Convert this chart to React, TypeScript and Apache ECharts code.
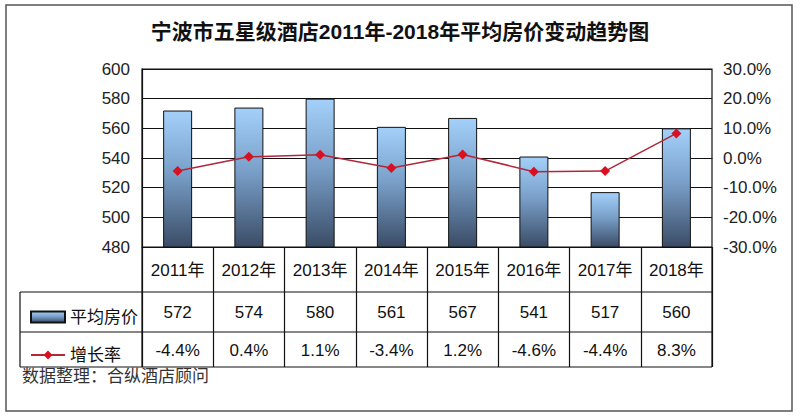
import React, { useEffect, useRef } from "react";
import * as echarts from "echarts";

const title = "宁波市五星级酒店2011年-2018年平均房价变动趋势图";
const categories = ["2011年", "2012年", "2013年", "2014年", "2015年", "2016年", "2017年", "2018年"];
const prices = [572, 574, 580, 561, 567, 541, 517, 560];
const growth = [-4.4, 0.4, 1.1, -3.4, 1.2, -4.6, -4.4, 8.3];
const priceName = "平均房价";
const growthName = "增长率";
const sourceText = "数据整理：合纵酒店顾问";

const FONT = "'Liberation Sans', 'Noto Sans CJK SC', sans-serif";

export default function App() {
  const ref = useRef<HTMLDivElement>(null);
  useEffect(() => {
    if (!ref.current) return;
    const chart = echarts.init(ref.current, undefined, { renderer: "svg" });
    const gl = 142, gr = 712, gt = 69, gb = 247, tb = 367;
    const tableLine = { stroke: "#111", lineWidth: 1.2 };
    const FS = 17;
    const option: any = {
      animation: false,
      backgroundColor: "#fff",
      textStyle: { fontFamily: FONT },
      title: {
        text: title,
        left: "center",
        top: 16,
        textStyle: { fontSize: 21, fontWeight: "bold", color: "#111", fontFamily: FONT },
      },
      grid: [
        {
          left: gl,
          right: 800 - gr,
          top: gt,
          bottom: 417 - gb,
          show: true,
          borderColor: "#111",
          borderWidth: 1.2,
        },
        {
          left: gl,
          right: 800 - gr,
          top: gb,
          height: tb - gb,
          show: false,
        },
      ],
      legend: {
        orient: "vertical",
        left: 25,
        top: 302,
        itemGap: 18,
        itemWidth: 34,
        itemHeight: 11,
        textStyle: { fontSize: FS, color: "#111", lineHeight: 20, fontFamily: FONT },
        data: [{ name: priceName, icon: "rect" }, { name: growthName }],
      },
      xAxis: [
        {
          type: "category",
          data: categories,
          position: "bottom",
          axisLine: { show: true, lineStyle: { color: "#111", width: 1.2 } },
          axisTick: { show: false },
          axisLabel: { interval: 0, margin: 23, verticalAlign: "middle", fontSize: FS, color: "#111" },
        },
        {
          type: "category",
          data: categories,
          position: "bottom",
          axisLine: { show: false },
          axisTick: { show: false },
          axisLabel: {
            interval: 0,
            margin: 65,
            verticalAlign: "middle",
            fontSize: FS,
            color: "#111",
            formatter: (_v: string, i: number) => String(prices[i]),
          },
        },
        {
          type: "category",
          data: categories,
          position: "bottom",
          axisLine: { show: false },
          axisTick: { show: false },
          axisLabel: {
            interval: 0,
            margin: 103,
            verticalAlign: "middle",
            fontSize: FS,
            color: "#111",
            formatter: (_v: string, i: number) => `${growth[i].toFixed(1)}%`,
          },
        },
        {
          type: "category",
          gridIndex: 1,
          data: categories,
          position: "top",
          axisLine: { show: false },
          axisTick: { show: false },
          axisLabel: { show: false },
          splitLine: { show: true, interval: 0, lineStyle: { color: "#111", width: 1.2 } },
        },
      ],
      yAxis: [
        {
          type: "value",
          min: 480,
          max: 600,
          interval: 20,
          axisLine: { show: true, lineStyle: { color: "#111", width: 1.2 } },
          axisTick: { show: false },
          axisLabel: { fontSize: FS, color: "#222", margin: 12 },
          splitLine: { show: true, lineStyle: { color: "#111", width: 1.2 } },
        },
        {
          type: "value",
          min: -30,
          max: 30,
          interval: 10,
          position: "right",
          axisLine: { show: false },
          axisTick: { show: false },
          axisLabel: { fontSize: FS, color: "#222", margin: 11, formatter: (v: number) => `${v.toFixed(1)}%` },
          splitLine: { show: false },
        },
        {
          type: "value",
          gridIndex: 1,
          show: false,
          splitLine: { show: false },
        },
      ],
      series: [
        {
          name: priceName,
          type: "bar",
          data: prices,
          barWidth: 29,
          itemStyle: {
            borderColor: "#111",
            borderWidth: 1,
            color: new echarts.graphic.LinearGradient(0, 0, 0, 1, [
              { offset: 0, color: "#a3d0fa" },
              { offset: 0.45, color: "#7aa0c9" },
              { offset: 1, color: "#3a4c66" },
            ]),
          },
        },
        {
          name: growthName,
          type: "line",
          yAxisIndex: 1,
          data: growth,
          symbol: "diamond",
          symbolSize: 10,
          lineStyle: { color: "#b0283a", width: 1.5 },
          itemStyle: { color: "#d81020" },
        },
      ],
      graphic: [
        { type: "rect", shape: { x: 6, y: 5, width: 786, height: 406 }, style: { fill: "none", stroke: "#555", lineWidth: 1.5 } },
        { type: "line", shape: { x1: 20, y1: 292, x2: gr, y2: 292 }, style: tableLine },
        { type: "line", shape: { x1: 20, y1: 332, x2: gr, y2: 332 }, style: tableLine },
        { type: "line", shape: { x1: 20, y1: tb, x2: gr, y2: tb }, style: tableLine },
        { type: "line", shape: { x1: 20, y1: 292, x2: 20, y2: tb }, style: tableLine },
        { type: "line", shape: { x1: gl, y1: gb, x2: gl, y2: tb }, style: tableLine },
        { type: "line", shape: { x1: gr, y1: gb, x2: gr, y2: tb }, style: tableLine },
        {
          type: "text",
          left: 22,
          top: 368,
          style: { text: sourceText, fontSize: FS, fill: "#333", fontFamily: FONT },
        },
      ],
    };
    chart.setOption(option);
    return () => chart.dispose();
  }, []);
  return <div ref={ref} style={{ position: "fixed", left: 0, top: 0, width: 800, height: 417 }} />;
}
